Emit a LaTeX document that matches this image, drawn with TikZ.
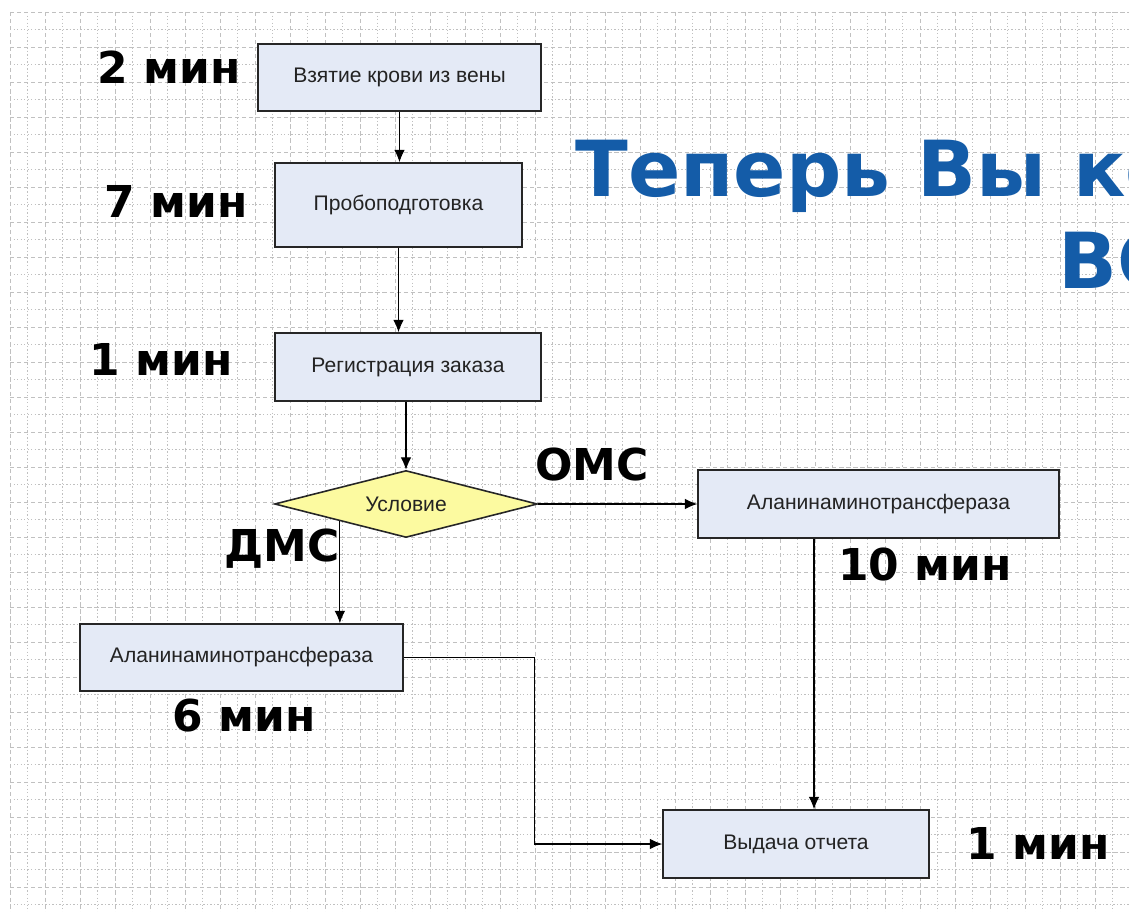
\documentclass[tikz,border=0pt]{standalone}
\usepackage{fontspec}
\setmainfont{Liberation Sans}
\newfontfamily\timefont{DejaVu Sans}
\usepackage{xcolor}
\usetikzlibrary{shapes.geometric, arrows.meta, positioning, calc}
\definecolor{boxfill}{RGB}{228,234,246}
\definecolor{condfill}{RGB}{252,250,160}
\definecolor{gridgray}{RGB}{192,192,192}
\definecolor{titleblue}{RGB}{20,92,168}
\definecolor{boxtext}{RGB}{35,35,35}

\begin{document}
\begin{tikzpicture}[
  x=0.02cm, y=-0.02cm,
  proc/.style={rectangle, draw=black!85, line width=0.9pt, fill=boxfill, inner sep=0pt,
    font=\fontsize{12}{14}\selectfont\color{boxtext}, align=center},
  cond/.style={diamond, draw=black!85, line width=0.9pt, fill=condfill, inner sep=0pt,
    shape aspect=3.92, minimum width=5.26cm, minimum height=1.34cm,
    font=\fontsize{12}{14}\selectfont\color{boxtext}},
  tlabel/.style={font=\timefont\bfseries\fontsize{25}{28}\selectfont, inner sep=0pt},
  title/.style={font=\timefont\bfseries\fontsize{44}{50}\selectfont\color{titleblue}, inner sep=0pt},
  conn/.style={-{Latex[length=7pt, width=6pt]}, line width=0.6pt, black},
  gmajor/.style={gridgray, line width=0.5pt, dash pattern=on 2.4pt off 1.6pt},
  gminor/.style={gridgray, line width=0.5pt, dash pattern=on 0.8pt off 1.2pt}
]
\useasboundingbox (0,0) rectangle (1129,912);
\clip (0,0) rectangle (1129,912);

% Grid paper
\foreach \k in {0,...,64}{
  \pgfmathsetmacro{\gx}{10+17.5*\k}
  \ifodd\k \draw[gminor] (\gx,12) -- (\gx,912); \else \draw[gmajor] (\gx,12) -- (\gx,912); \fi
}
\foreach \k in {0,...,51}{
  \pgfmathsetmacro{\gy}{12+17.5*\k}
  \ifodd\k \draw[gminor] (10,\gy) -- (1129,\gy); \else \draw[gmajor] (10,\gy) -- (1129,\gy); \fi
}

% Title
\node[title, anchor=base west] (t1) at (575,197) {Теперь Вы ко};
\node[title, anchor=base west] (t2) at (1058,288) {ВС};

% Steps
\node[proc, minimum width=5.66cm, minimum height=1.34cm] (b1) at (399.5,77.5) {Взятие крови из вены};
\node[proc, minimum width=4.94cm, minimum height=1.68cm] (b2) at (398.5,205) {Пробоподготовка};
\node[proc, minimum width=5.32cm, minimum height=1.36cm] (b3) at (408,367) {Регистрация заказа};
\node[cond] (c) at (406,504) {Условие};
\node[proc, minimum width=7.22cm, minimum height=1.36cm] (b4) at (878.5,504) {Аланинаминотрансфераза};
\node[proc, minimum width=6.46cm, minimum height=1.34cm] (b5) at (241.5,657.5) {Аланинаминотрансфераза};
\node[proc, minimum width=5.32cm, minimum height=1.36cm] (b6) at (796,844) {Выдача отчета};

% Times
\node[tlabel] (m1) at (169,67) {2 мин};
\node[tlabel] (m2) at (176,201) {7 мин};
\node[tlabel] (m3) at (161,359) {1 мин};
\node[tlabel] (m4) at (925,565) {10 мин};
\node[tlabel] (m5) at (244,716) {6 мин};
\node[tlabel] (m6) at (1038,843) {1 мин};

% Branch labels
\node[tlabel] (oms) at (592,465) {ОМС};
\node[tlabel] (dms) at (282,549) {ДМС};

% Arrows
\coordinate (dmsout) at ($(c.west)!0.5!(c.south)$);
\coordinate (omsdown) at ([xshift=-1.29cm]b4.south);
\draw[conn] (b1.south) -- (b1.south |- b2.north);
\draw[conn] (b2.south) -- (b2.south |- b3.north);
\draw[conn] (c.north |- b3.south) -- (c.north);
\draw[conn] (c.east) -- (b4.west);
\draw[conn] (dmsout) -- (dmsout |- b5.north);
\draw[conn] (b5.east) -- ++(131,0) |- (b6.west);
\draw[conn] (omsdown) -- (omsdown |- b6.north);

\end{tikzpicture}
\end{document}
